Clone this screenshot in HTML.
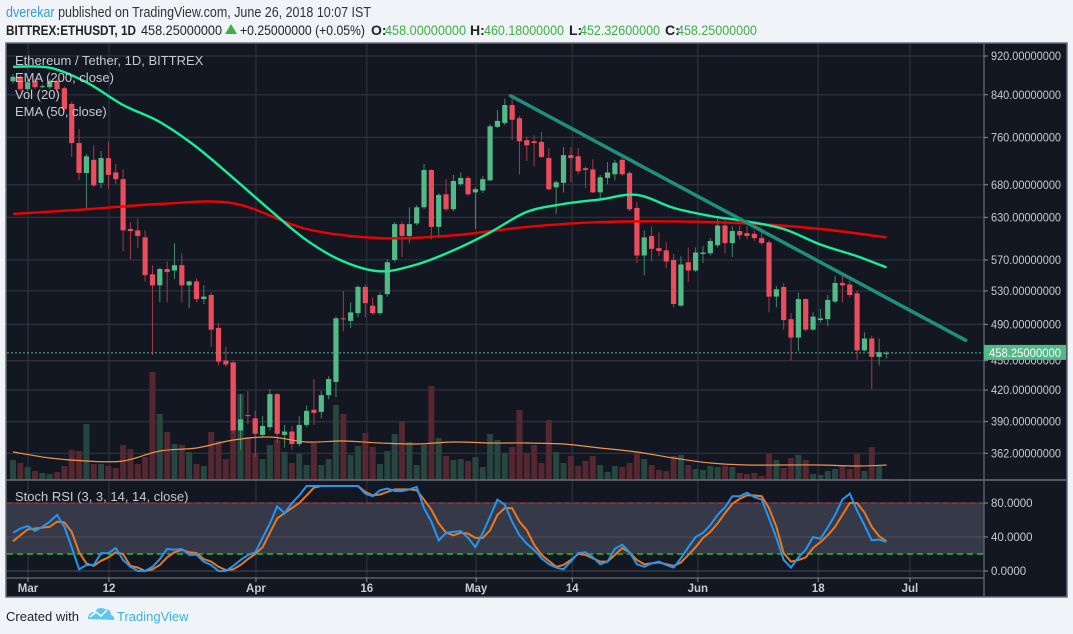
<!DOCTYPE html>
<html><head><meta charset="utf-8">
<style>
html,body{margin:0;padding:0;background:#f0f3f7;}
svg{display:block;font-family:"Liberation Sans",sans-serif;}
</style></head>
<body>
<svg id="chart" width="1073" height="634" viewBox="0 0 1073 634" xmlns="http://www.w3.org/2000/svg">
  <rect x="0" y="0" width="1073" height="634" fill="#f0f3f7"/>
  <g>
    <text x="6" y="17" font-size="14.5" fill="#333" textLength="365" lengthAdjust="spacingAndGlyphs"><tspan fill="#3a9ad9">dverekar</tspan> published on TradingView.com, June 26, 2018 10:07 IST</text>
    <text x="6" y="35" font-size="14" font-weight="bold" fill="#222" textLength="130" lengthAdjust="spacingAndGlyphs">BITTREX:ETHUSDT, 1D</text>
    <text x="141" y="35" font-size="14" fill="#222" textLength="81" lengthAdjust="spacingAndGlyphs">458.25000000</text>
    <polygon points="225,34 237,34 231,24" fill="#3cb043"/>
    <text x="240" y="35" font-size="14" fill="#222" textLength="125" lengthAdjust="spacingAndGlyphs">+0.25000000 (+0.05%)</text>
    <text x="371" y="35" font-size="14" font-weight="bold" fill="#222">O:</text>
    <text x="385" y="35" font-size="14" fill="#3cb043" textLength="81" lengthAdjust="spacingAndGlyphs">458.00000000</text>
    <text x="470" y="35" font-size="14" font-weight="bold" fill="#222">H:</text>
    <text x="484" y="35" font-size="14" fill="#3cb043" textLength="80" lengthAdjust="spacingAndGlyphs">460.18000000</text>
    <text x="569" y="35" font-size="14" font-weight="bold" fill="#222">L:</text>
    <text x="580" y="35" font-size="14" fill="#3cb043" textLength="80" lengthAdjust="spacingAndGlyphs">452.32600000</text>
    <text x="665" y="35" font-size="14" font-weight="bold" fill="#222">C:</text>
    <text x="677" y="35" font-size="14" fill="#3cb043" textLength="80" lengthAdjust="spacingAndGlyphs">458.25000000</text>
  </g>
  <rect x="6" y="43" width="1061" height="554" fill="#131722" stroke="#6a6d78" stroke-width="1.5"/>
  <g id="grid"></g>
  <g id="stochBand"></g>
  <g id="volume"></g>
  <g id="candles"></g>
  <g id="lines"></g>
  <g id="axes"></g>
  <g font-size="13" fill="#c8cad0">
    <text x="15" y="65">Ethereum / Tether, 1D, BITTREX</text>
    <text x="15" y="82">EMA (200, close)</text>
    <text x="15" y="99">Vol (20)</text>
    <text x="15" y="116">EMA (50, close)</text>
    <text x="15" y="501">Stoch RSI (3, 3, 14, 14, close)</text>
  </g>
  <g>
    <text x="6" y="621" font-size="13" fill="#222">Created with</text>
    <g>
      <path d="M88,619 q0,-7 7,-7 q3,-6 10,-3 q6,0 6,6 q4,1 3,5 z" fill="#5cc6ee"/>
      <polyline points="90,617 96,612 101,616 107,610" fill="none" stroke="#fff" stroke-width="1.5"/>
    </g>
    <text x="117" y="621" font-size="13" fill="#3bb2e6">TradingView</text>
  </g>
</svg>
<script>
// ---- data ----
const opens  = [867,876,851,868,855,855,868,853,822,750,699,721,683,724,700,689,613,611,601,551,537,558,556,563,537,542,520,525,486,450,448,382,396,393,378,385,416,378,381,370,387,401,399,415,428,497,494,503,535,512,503,526,570,620,603,621,645,704,616,665,642,681,691,668,671,687,779,786,820,795,755,753,752,724,676,683,729,727,707,705,668,691,697,721,699,644,576,603,586,583,570,512,567,556,578,579,590,618,593,610,607,606,600,594,523,535,496,475,520,484,495,496,517,540,538,527,461,474,454,458];
const highs  = [882,880,870,872,861,872,872,857,826,775,731,746,736,753,714,705,623,629,611,563,560,568,593,579,543,546,537,528,492,465,450,416,419,400,395,421,417,387,386,395,405,431,419,434,499,530,516,537,538,522,528,571,623,624,645,648,714,705,667,689,696,700,694,676,694,784,810,832,839,799,762,764,770,741,687,743,743,741,710,722,696,717,721,724,702,653,611,617,608,594,578,575,587,587,589,600,629,629,617,618,618,611,608,597,536,540,503,528,521,504,508,525,549,553,543,530,481,477,474,460.18];
const lows   = [863,847,847,851,853,851,845,807,726,687,642,676,675,673,681,582,571,586,542,456,516,516,545,516,509,516,514,465,445,443,379,365,388,359,376,382,371,367,365,368,385,387,393,411,413,482,486,498,498,501,501,523,567,574,593,618,642,598,600,639,639,678,662,613,667,686,777,782,755,697,719,710,724,671,635,668,684,697,675,667,657,681,687,694,639,566,550,568,575,559,510,511,541,554,566,576,587,579,574,598,598,596,590,504,510,484,450,460,482,483,492,488,515,516,522,451,460,421,445,452.33];
const closes = [876,851,865,855,857,868,851,812,750,699,727,679,724,696,689,611,610,603,550,537,558,554,563,537,542,520,523,484,449,446,382,392,395,379,386,416,379,381,370,387,400,398,415,431,497,496,504,535,515,503,525,567,620,603,620,645,704,616,664,642,686,691,665,673,689,780,790,820,792,753,746,750,726,673,684,729,724,702,704,668,692,700,716,697,642,576,601,585,582,568,514,564,556,580,580,596,618,593,610,604,603,600,593,523,532,495,475,520,484,499,497,519,540,537,525,461,474,454,459,458.25];
const volumes = [20,17,13,9,7,6,8,14,30,29,56,16,16,14,12,35,31,16,23,108,66,48,36,35,28,16,14,48,39,21,118,86,43,27,21,35,40,28,17,26,15,37,15,21,75,66,25,34,47,33,16,29,46,59,38,15,35,94,42,24,20,21,19,23,13,46,40,27,33,70,26,35,17,60,28,17,24,14,19,24,15,8,14,13,17,27,21,15,10,9,24,25,15,11,10,14,13,14,13,7,6,7,4,26,20,12,22,25,20,6,5,9,11,15,11,26,9,33,14,1];
const volumeMa = [28,22,19,19,29,32,40,43,38,39,37,36,38,37,37,36,32,28,22,17,15,15,15,14,15];
const ema50 = [897,895,865,820,788,743,691,641,597,568,555,564,583,608,638,650,657,664,644,632,624,613,591,575,560];
const ema200 = [635,642,650,651,613,600,604,616,623,624,621,613,601];
const stochK = [45,50,53,47,52,58,66,52,28,2,7,7,21,21,27,13,5,0,0,5,14,26,25,26,19,19,11,7,0,0,6,13,19,22,39,56,76,68,80,89,100,100,100,100,100,100,100,100,91,88,95,97,94,94,96,99,74,58,36,45,46,47,39,28,45,64,84,78,58,42,32,25,15,8,4,2,11,21,22,16,8,11,26,31,22,8,5,9,11,7,4,15,28,40,45,54,66,75,88,88,92,87,84,62,39,13,4,16,25,40,38,51,66,84,91,71,54,36,37,34];
const stochD = [35,42,49,50,51,52,58,57,46,22,9,6,12,16,22,20,6,4,0,2,7,16,22,25,22,21,14,11,5,1,2,7,14,20,28,45,62,68,74,80,89,98,100,100,100,100,100,100,93,89,90,93,96,96,96,95,84,72,56,45,42,45,44,39,39,48,66,74,74,58,48,31,19,12,5,7,13,20,19,15,11,11,19,27,22,13,8,9,10,8,6,10,19,28,39,46,56,68,79,85,89,89,88,74,52,21,11,13,16,27,34,42,52,66,80,80,69,52,41,35];
const priceTicks = [920,840,760,680,630,570,530,490,450,420,390,362];
const stochTicks = [80,40,0];
const timeTickIdx = [2.04,13.08,33.1,48.2,63.1,76.2,93.3,109.7,122.2];
const timeTickLabels = ["Mar","12","Apr","16","May","14","Jun","18","Jul"];
const trendStart = [67.8, 838];
const trendEnd = [129.8, 472];
const lastPrice = 458.25;
const emaStep = 5, ema200Step = 10;

// ---- scales ----
const NS = "http://www.w3.org/2000/svg";
const X0 = 13, DX = 7.34;
const xS = i => X0 + i * DX;
const yP = p => 56 + (Math.log(920) - Math.log(p)) * 426;
const yV = v => 480 - v;
const yS = v => 571 - v * 0.85;
function mk(tag, attrs, parent){ const e=document.createElementNS(NS,tag); for(const k in attrs) e.setAttribute(k,attrs[k]); parent.appendChild(e); return e; }
const grid = document.getElementById('grid'), band = document.getElementById('stochBand'),
  volG = document.getElementById('volume'), cG = document.getElementById('candles'),
  lG = document.getElementById('lines'), aG = document.getElementById('axes');
const R = 984;
priceTicks.forEach(p => {
  const y = yP(p);
  const l = mk('line',{x1:7,x2:R,y1:y,y2:y,stroke:'#2e323e','stroke-width':1.2},grid);
  
  
});
timeTickIdx.forEach(t => {
  const x = xS(t);
  const l = mk('line',{x1:x,x2:x,y1:44,y2:578,stroke:'#2e323e','stroke-width':1.2},grid);
  
  
});
const bandRect = mk('rect',{x:7,y:yS(80),width:R-7,height:yS(20)-yS(80),fill:'#363a48'},band);


stochTicks.forEach(v => {
  const l = mk('line',{x1:7,x2:R,y1:yS(v),y2:yS(v),stroke:'#4a4e5a','stroke-width':1},band);
  
  
});
const ob = mk('line',{x1:7,x2:R,y1:yS(80),y2:yS(80),stroke:'#e03030','stroke-width':1,'stroke-dasharray':'5,4'},band);


const os = mk('line',{x1:7,x2:R,y1:yS(20),y2:yS(20),stroke:'#22dd22','stroke-width':1.3,'stroke-dasharray':'6,4'},band);


volumes.forEach((v,i) => {
  const up = closes[i] >= opens[i];
  const r = mk('rect',{x:xS(i)-3,y:yV(v),width:6,height:v,fill:up?'#27463f':'#552731'},volG);
  
  
});
opens.forEach((o,i) => {
  const c = closes[i], up = c >= o, col = up ? '#53b987' : '#eb4d5c', wcol = up ? '#3f8a66' : '#a8394a';
  const x = xS(i);
  const w = mk('line',{x1:x,x2:x,y1:yP(highs[i]),y2:yP(lows[i]),stroke:wcol,'stroke-width':1},cG);
  
  
  const yt = yP(Math.max(o,c)), yb = yP(Math.min(o,c));
  const b = mk('rect',{x:x-2.6,y:yt,width:5.2,height:Math.max(1,yb-yt),fill:col},cG);
  
  
});
// smooth path through samples (Catmull-Rom)
function smoothPath(pts){
  let d = 'M'+pts[0][0].toFixed(1)+','+pts[0][1].toFixed(1);
  for(let k=0;k<pts.length-1;k++){
    const p0=pts[Math.max(0,k-1)], p1=pts[k], p2=pts[k+1], p3=pts[Math.min(pts.length-1,k+2)];
    const c1=[p1[0]+(p2[0]-p0[0])/6, p1[1]+(p2[1]-p0[1])/6];
    const c2=[p2[0]-(p3[0]-p1[0])/6, p2[1]-(p3[1]-p1[1])/6];
    d += ' C'+c1[0].toFixed(1)+','+c1[1].toFixed(1)+' '+c2[0].toFixed(1)+','+c2[1].toFixed(1)+' '+p2[0].toFixed(1)+','+p2[1].toFixed(1);
  }
  return d;
}
function curve(vals, step, yf, attrs, name, smooth){
  const pts = vals.map((v,k) => [xS(Math.min(k*step, opens.length-1)), yf(v)]);
  let p;
  if(smooth){ p = mk('path',Object.assign({d:smoothPath(pts),fill:'none'},attrs),lG); }
  else { p = mk('polyline',Object.assign({points:pts.map(q=>q[0].toFixed(1)+','+q[1].toFixed(1)).join(' '),fill:'none'},attrs),lG); }
  
  
}
curve(volumeMa, emaStep, yV, {stroke:'#f0954a','stroke-width':1.2}, 'volume-ma-line', true);
curve(ema200, ema200Step, yP, {stroke:'#f00000','stroke-width':2.4}, 'ema200-line', true);
curve(ema50, emaStep, yP, {stroke:'#14f09a','stroke-width':2.4}, 'ema50-line', true);
curve(stochD, 1, yS, {stroke:'#e87722','stroke-width':2}, 'stoch-d-line', false);
curve(stochK, 1, yS, {stroke:'#2196f3','stroke-width':2}, 'stoch-k-line', false);
const tl = mk('line',{x1:xS(trendStart[0]),y1:yP(trendStart[1]),x2:xS(trendEnd[0]),y2:yP(trendEnd[1]),stroke:'#1e8f7c','stroke-width':3.5,'stroke-linecap':'round'},lG);


const lp = mk('line',{x1:7,x2:R,y1:yP(lastPrice),y2:yP(lastPrice),stroke:'#53b987','stroke-width':1,'stroke-dasharray':'2,2'},lG);


const sep = mk('line',{x1:R,x2:R,y1:44,y2:597,stroke:'#6a6d78','stroke-width':1.2},aG);


const pane = mk('line',{x1:6,x2:1067,y1:480,y2:480,stroke:'#6a6d78','stroke-width':1.5},aG);


const tax = mk('line',{x1:6,x2:R,y1:578,y2:578,stroke:'#6a6d78','stroke-width':1.2},aG);


priceTicks.forEach(p => {
  const y = yP(p);
  const tk = mk('line',{x1:R,x2:R+4,y1:y,y2:y,stroke:'#8a8d96'},aG);
  
  
  const t = mk('text',{x:991,y:y+4,'font-size':11.5,fill:'#c8cad0',textLength:70,lengthAdjust:'spacingAndGlyphs'},aG);
  t.textContent = p.toFixed(8);
  
  
});
stochTicks.forEach(v => {
  const y = yS(v);
  const tk = mk('line',{x1:R,x2:R+4,y1:y,y2:y,stroke:'#8a8d96'},aG);
  
  
  const t = mk('text',{x:991,y:y+4,'font-size':11.5,fill:'#c8cad0'},aG);
  t.textContent = v.toFixed(4);
  
  
});
const ly = yP(lastPrice);
const lb = mk('rect',{x:R,y:ly-8,width:82,height:15,fill:'#53b987'},aG);


const lt = mk('text',{x:989,y:ly+4,'font-size':11.5,fill:'#ffffff',textLength:72,lengthAdjust:'spacingAndGlyphs'},aG);
lt.textContent = lastPrice.toFixed(8);


timeTickIdx.forEach((t,k) => {
  const x = xS(t);
  const tk = mk('line',{x1:x,x2:x,y1:578,y2:582,stroke:'#8a8d96'},aG);
  
  
  const tx = mk('text',{x:x,y:592,'font-size':11.5,'font-weight':'bold',fill:'#c8cad0','text-anchor':'middle'},aG);
  tx.textContent = timeTickLabels[k];
  
  
});
</script>
</body></html>
